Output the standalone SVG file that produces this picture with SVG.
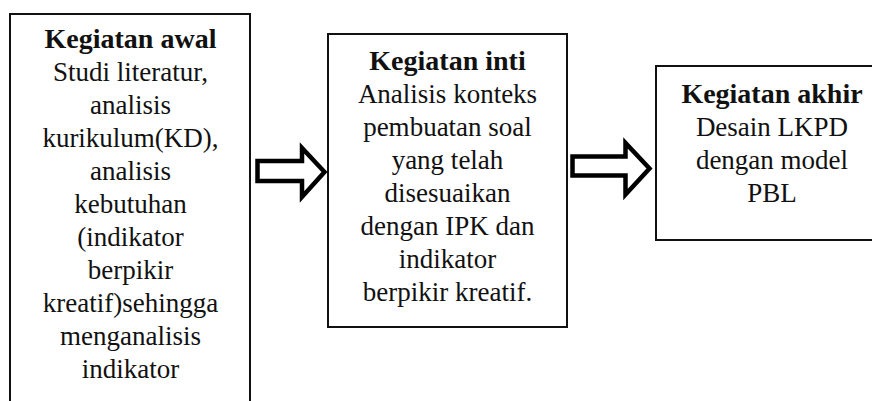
<svg xmlns="http://www.w3.org/2000/svg" width="872" height="401" viewBox="0 0 872 401">
<style>
.box{fill:#fff;stroke:#111;stroke-width:2}
.arrow{fill:#fff;stroke:#000;stroke-width:4.5;stroke-linejoin:miter;stroke-miterlimit:10}
text{font-family:"Liberation Serif","Times New Roman",serif;font-size:27px;fill:#111;text-anchor:middle}
.t{font-weight:bold;font-size:28px}
</style>
<rect width="872" height="401" fill="#fff"/>
<g id="node-awal">
<rect class="box" x="10" y="14" width="240" height="400"/>
<text x="130.5" y="48" class="t">Kegiatan awal</text>
<text x="130.5" y="81">Studi literatur,</text>
<text x="130.5" y="114">analisis</text>
<text x="130.5" y="147">kurikulum(KD),</text>
<text x="130.5" y="180">analisis</text>
<text x="130.5" y="213">kebutuhan</text>
<text x="130.5" y="246">(indikator</text>
<text x="130.5" y="279">berpikir</text>
<text x="130.5" y="312">kreatif)sehingga</text>
<text x="130.5" y="345">menganalisis</text>
<text x="130.5" y="378">indikator</text>
</g>
<g id="node-inti">
<rect class="box" x="328" y="34" width="239" height="293"/>
<text x="447.5" y="70" class="t">Kegiatan inti</text>
<text x="447.5" y="103">Analisis konteks</text>
<text x="447.5" y="136">pembuatan soal</text>
<text x="447.5" y="169">yang telah</text>
<text x="447.5" y="202">disesuaikan</text>
<text x="447.5" y="235">dengan IPK dan</text>
<text x="447.5" y="268">indikator</text>
<text x="447.5" y="301">berpikir kreatif.</text>
</g>
<g id="node-akhir">
<rect class="box" x="656" y="66" width="230" height="174"/>
<text x="772" y="103" class="t">Kegiatan akhir</text>
<text x="772" y="136">Desain LKPD</text>
<text x="772" y="169">dengan model</text>
<text x="772" y="202">PBL</text>
</g>
<g id="connectors">
<polygon class="arrow" points="257.5,161 302,161 302,148 324.5,172 302,197 302,181 257.5,181"/>
<polygon class="arrow" points="572.5,156.5 625.5,156.5 625.5,143 649.5,168.5 625.5,194.5 625.5,175.5 572.5,175.5"/>
</g>
</svg>
